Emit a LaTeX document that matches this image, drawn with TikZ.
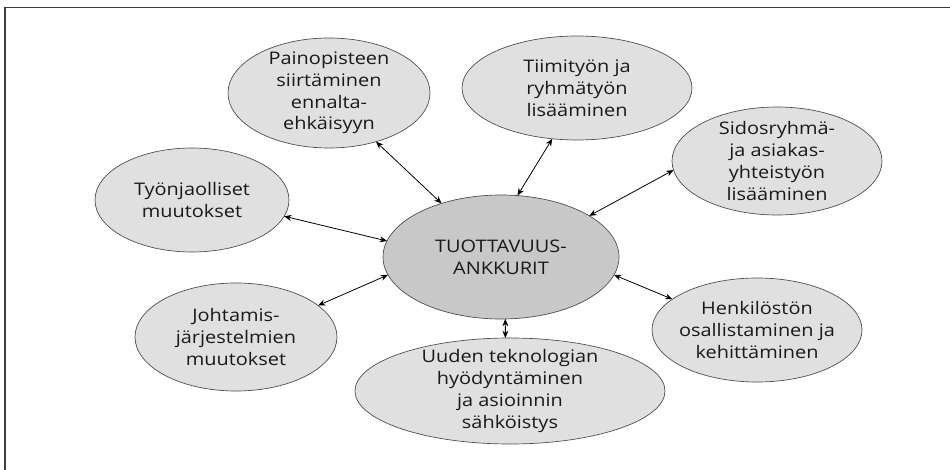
\documentclass[tikz,border=0pt]{standalone}
\usepackage{fontspec}
\setmainfont{Open Sans}[FakeStretch=1.15]
\usetikzlibrary{shapes.geometric,arrows.meta}
\definecolor{bubblefill}{HTML}{E0E0E0}
\definecolor{hubfill}{HTML}{C8C8C8}
\definecolor{rimgray}{HTML}{4A4A4A}
\definecolor{framegray}{HTML}{3C3C3C}
\begin{document}
\begin{tikzpicture}[x=0.75pt,y=-0.75pt,
  bubble/.style 2 args={ellipse, draw=rimgray, line width=0.5pt, fill=bubblefill,
    minimum width=#1*1.5pt, minimum height=#2*1.5pt, inner sep=0pt, outer sep=0pt},
  hub/.style 2 args={bubble={#1}{#2}, fill=hubfill},
  bubbletext/.style={align=center, inner sep=0pt, text=black!90,
    font=\fontsize{13pt}{16.3pt}\selectfont},
  link/.style={{Stealth[length=5.5pt,width=4.5pt]}-{Stealth[length=5.5pt,width=4.5pt]},
    line width=0.6pt, black}]
\useasboundingbox (0,0) rectangle (950,470);
\clip (0,0) rectangle (950,470);
% outer frame
\draw[framegray, line width=1.1pt] (5,7.5) rectangle (960,480);

% centre
\node[hub={118}{62}] (c) at (501,257) {};
\node[bubbletext] (c-txt) at (c) {TUOTTAVUUS-\\ANKKURIT};

% surrounding themes
\node[bubble={101}{55}] (p) at (329,93) {};
\node[bubbletext] (p-txt) at (p) {Painopisteen\\siirtäminen\\ennalta-\\ehkäisyyn};

\node[bubble={115}{52}] (t) at (577,88) {};
\node[bubbletext] (t-txt) at (t) {Tiimityön ja\\ryhmätyön\\lisääminen};

\node[bubble={105}{54}] (s) at (777,161) {};
\node[bubbletext] (s-txt) at (s) {Sidosryhmä-\\ja asiakas-\\yhteistyön\\lisääminen};

\node[bubble={97}{52}] (w) at (192,200) {};
\node[bubbletext] (w-txt) at (w) {Työnjaolliset\\muutokset};

\node[bubble={101}{54}] (j) at (236,337) {};
\node[bubbletext] (j-txt) at (j) {Johtamis-\\järjestelmien\\muutokset};

\node[bubble={155}{53}] (u) at (510,391) {};
\node[bubbletext] (u-txt) at (u) {Uuden teknologian\\hyödyntäminen\\ja asioinnin\\sähköistys};

\node[bubble={105}{52}] (h) at (757,330) {};
\node[bubbletext] (h-txt) at (h) {Henkilöstön\\osallistaminen ja\\kehittäminen};

% two-way links to the centre
\draw[link] (p.-46) -- (c.138);
\draw[link] (t.-116) -- (c.75);
\draw[link] (s.185) -- (c.25);
\draw[link] (w.-10) -- (c.172);
\draw[link] (j.21) -- (c.189);
\draw[link] (u.95) -- (c.-86);
\draw[link] (h.160) -- (c.-9);
\end{tikzpicture}
\end{document}
